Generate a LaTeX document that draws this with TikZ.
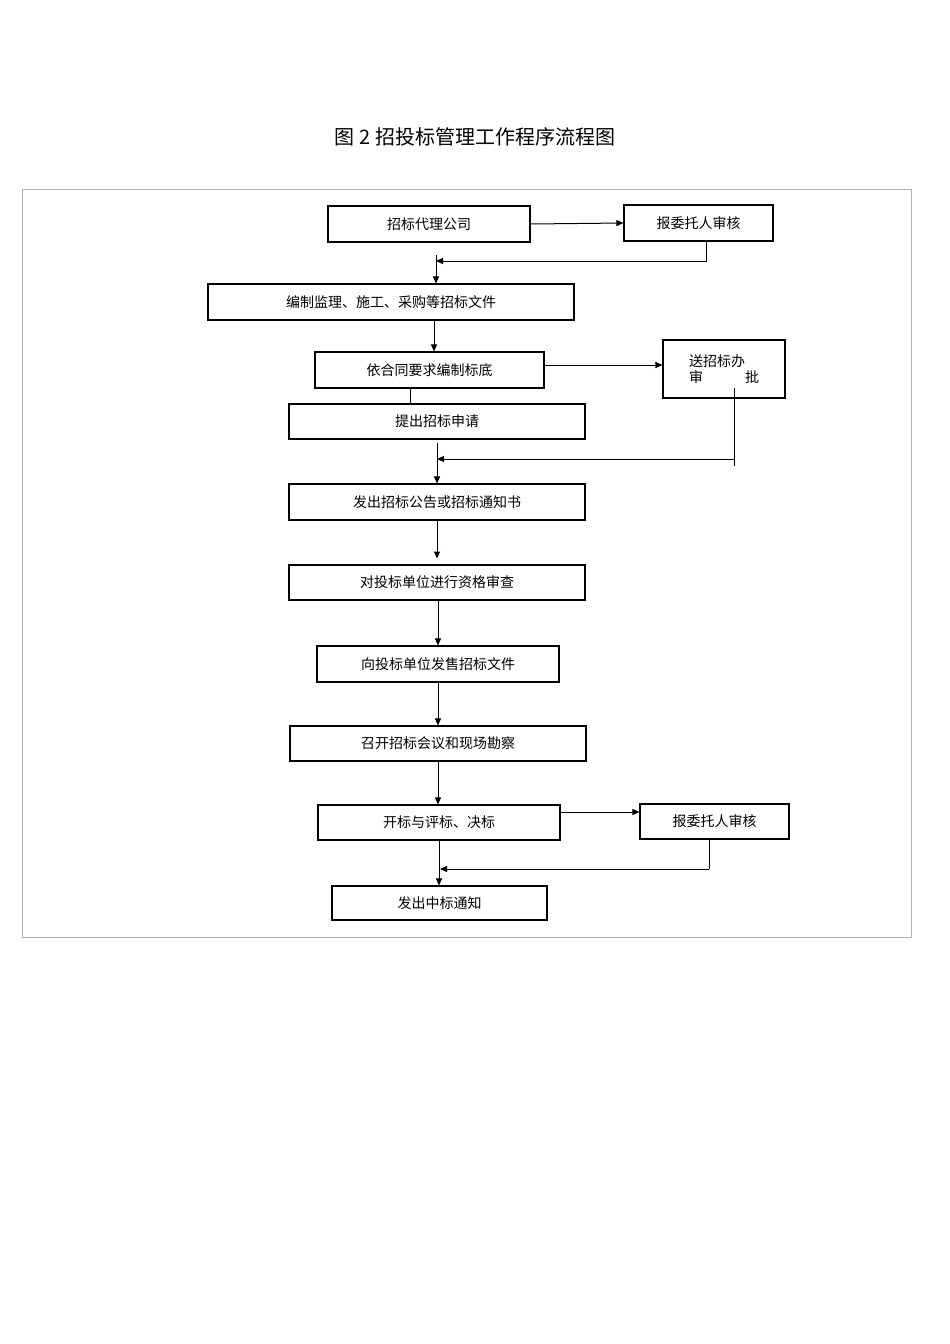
\documentclass[tikz,border=0pt]{standalone}
\usepackage{fontspec}
\newfontfamily\cjk{Noto Sans CJK SC}
\usetikzlibrary{arrows.meta}
\begin{document}
\begin{tikzpicture}[x=1pt,y=-1pt,
  bx/.style={draw,line width=1.1pt,inner sep=0pt,font=\cjk\fontsize{14}{16}\selectfont},
  ln/.style={line width=1pt},
  ar/.style={line width=1pt,-{Triangle[length=7pt,width=6pt]}}]
\useasboundingbox (0,0) rectangle (950,1344);
\fill[white] (0,0) rectangle (950,1344);
\draw[gray!60,line width=0.8pt] (22,189) rectangle (911,937);
\node[font=\cjk\fontsize{20}{24}\selectfont] (title) at (475,137) {图 2 招投标管理工作程序流程图};
\node[bx,minimum width=202,minimum height=36] (A) at (429,224) {招标代理公司};
\node[bx,minimum width=149,minimum height=36] (B) at (698.5,223) {报委托人审核};
\node[bx,minimum width=366,minimum height=36] (C) at (391,302) {编制监理、施工、采购等招标文件};
\node[bx,minimum width=229,minimum height=36] (D) at (429.5,370) {依合同要求编制标底};
\node[bx,minimum width=122,minimum height=58,align=left] (E) at (724,369) {送招标办\\审\hspace{3em}批};
\node[bx,minimum width=296,minimum height=35] (F) at (437,421.5) {提出招标申请};
\node[bx,minimum width=296,minimum height=36] (G) at (437,502) {发出招标公告或招标通知书};
\node[bx,minimum width=296,minimum height=35] (H) at (437,582.5) {对投标单位进行资格审查};
\node[bx,minimum width=242,minimum height=36] (I) at (438,664) {向投标单位发售招标文件};
\node[bx,minimum width=296,minimum height=35] (J) at (438,743.5) {召开招标会议和现场勘察};
\node[bx,minimum width=242,minimum height=35] (K) at (439,822.5) {开标与评标、决标};
\node[bx,minimum width=149,minimum height=35] (L) at (714.5,821.5) {报委托人审核};
\node[bx,minimum width=215,minimum height=34] (M) at (439.5,903) {发出中标通知};
\coordinate (j1) at (436,261);
\coordinate (j2) at (437,459);
\coordinate (j3) at (440,869);
% connectors
\draw[ar] (A.east) -- (B.west);
\draw[ln] (B.south -| 706,0) -- (706,261) -- ++(-200,0);
\draw[ar] (706,261) -- (j1);
\draw[ar] (436,255) -- (C.north -| 436,0);
\draw[ar] (C.south -| 434,0) -- (D.north -| 434,0);
\draw[ar] (D.east |- 0,365) -- (E.west |- 0,365);
\draw[ln] (D.south -| 410,0) -- (F.north -| 410,0);
\draw[ln] (734,388) -- (734,466);
\draw[ar] (734,459) -- (j2);
\draw[ar] (437,443) -- (G.north -| 437,0);
\draw[ar] (G.south -| 437,0) -- ++(0,38);
\draw[ar] (H.south -| 438,0) -- (I.north -| 438,0);
\draw[ar] (I.south -| 438,0) -- (J.north -| 438,0);
\draw[ar] (J.south -| 438,0) -- (K.north -| 438,0);
\draw[ar] (K.east |- 0,812) -- (L.west |- 0,812);
\draw[ln] (L.south -| 709,0) -- (709,869);
\draw[ar] (709,869) -- (j3);
\draw[ar] (K.south -| 439,0) -- (M.north -| 439,0);
\end{tikzpicture}
\end{document}
